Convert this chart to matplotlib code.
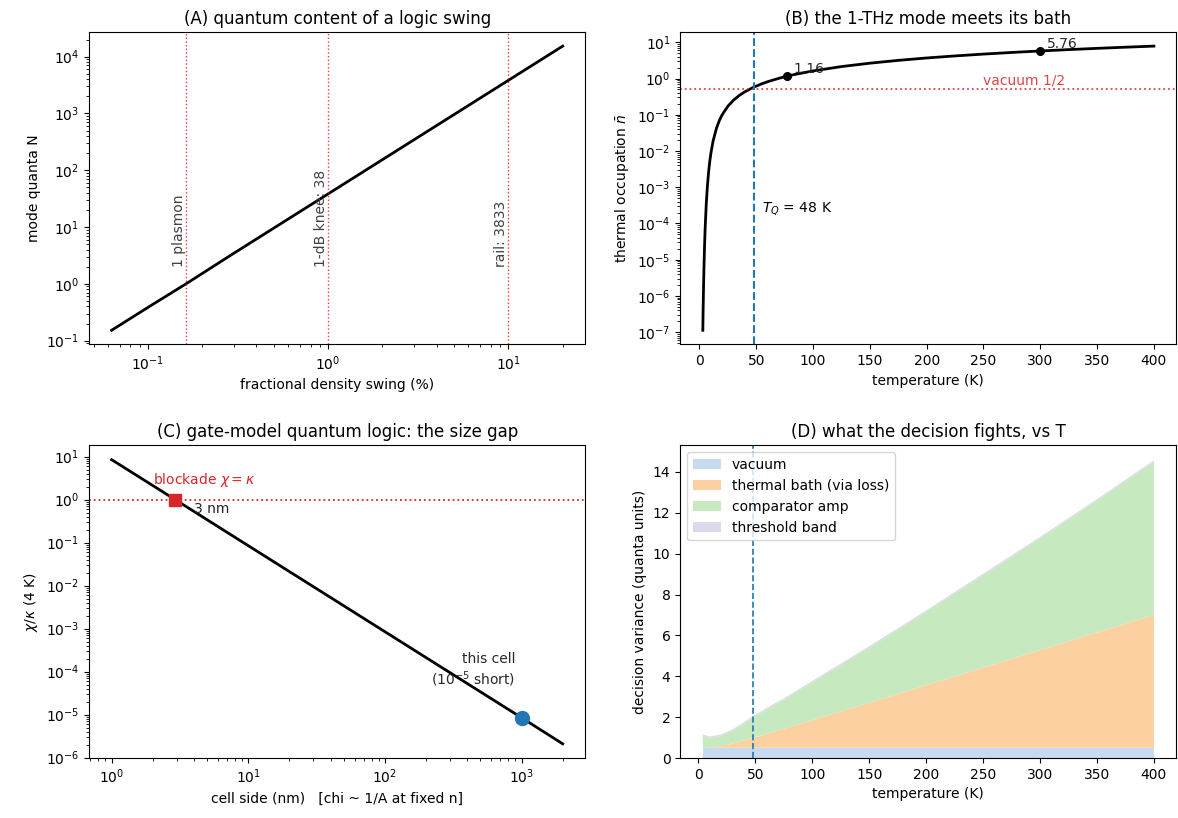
import matplotlib
matplotlib.use("Agg")
import matplotlib.pyplot as plt

# (A) mode quanta vs fractional density swing
swing_pct = [0.063, 0.1, 0.163, 0.3, 1.0, 3.0, 10.0, 20.0]
mode_quanta = [0.152, 0.383, 1.0, 3.45, 38.3, 345, 3833, 15330]
marker_x = [0.163, 1.0, 10.0]
marker_labels = ["1 plasmon", "1-dB knee: 38", "rail: 3833"]

# (B) thermal occupation of the 1-THz mode
temp_b = [3, 3.2, 3.5, 4, 4.5, 5, 6, 7, 8, 9, 10, 12, 15, 17.5, 20, 25, 30, 35,
          40, 48, 55, 60, 70, 77, 85, 100, 125, 150, 175, 200, 225, 250, 275,
          300, 325, 350, 375, 400]
nbar_b = [1.13e-7, 3.06e-7, 1.11e-6, 6.1e-6, 2.33e-5, 6.8e-5, 3.36e-4, 1.05e-3,
          2.48e-3, 4.85e-3, 8.3e-3, 0.0187, 0.0425, 0.0688, 0.0998, 0.172, 0.253,
          0.340, 0.431, 0.582, 0.717, 0.816, 1.015, 1.16, 1.317, 1.62, 2.137,
          2.65, 3.168, 3.69, 4.205, 4.72, 5.243, 5.76, 6.28, 6.80, 7.32, 7.84]
T_Q = 48
dot_T = [77, 300]
dot_n = [1.16, 5.76]

# (C) chi/kappa vs cell side
cell_nm = [1, 2.92, 10, 100, 1000, 2000]
chi_kappa = [8.5, 1.0, 0.085, 8.5e-4, 8.5e-6, 2.1e-6]
blockade_nm = 2.92
this_cell_nm = 1000
this_cell_ratio = 8.5e-6

# (D) stacked decision variance
temp_d = [4, 10, 20, 30, 40, 48, 60, 75, 100, 150, 200, 250, 300, 350, 400]
vacuum = [0.5] * len(temp_d)
thermal = [0.0, 0.007, 0.083, 0.21, 0.36, 0.48, 0.68, 0.93, 1.35, 2.2, 3.06,
           3.92, 4.78, 5.64, 6.5]
amp = [0.58, 0.48, 0.50, 0.62, 0.82, 1.0, 1.2, 1.42, 1.85, 2.7, 3.59, 4.53,
       5.47, 6.46, 7.5]
threshold = [0.07] * len(temp_d)
stack_labels = ["vacuum", "thermal bath (via loss)", "comparator amp", "threshold band"]
stack_colors = ["#c6dbef", "#fdd0a2", "#c7e9c0", "#dadaeb"]

fig, axs = plt.subplots(2, 2, figsize=(11.78, 8.18), dpi=100)
plt.subplots_adjust(left=0.0756, right=0.9987, top=0.961, bottom=0.0733,
                    wspace=0.1915, hspace=0.323)

# --- A ---
ax = axs[0, 0]
ax.loglog(swing_pct, mode_quanta, color="black", lw=2)
for x, lab in zip(marker_x, marker_labels):
    ax.axvline(x, color="red", ls=":", lw=1, alpha=0.8)
    ax.text(x, 2, lab, rotation=90, ha="right", va="bottom", fontsize=10, color="0.25")
ax.set_xlabel("fractional density swing (%)")
ax.set_ylabel("mode quanta N")
ax.set_title("(A) quantum content of a logic swing")

# --- B ---
ax = axs[0, 1]
ax.semilogy(temp_b, nbar_b, color="black", lw=2)
ax.axhline(0.5, color="tab:red", ls=":", lw=1.3, alpha=0.85)
ax.text(250, 0.56, "vacuum 1/2", color="tab:red", alpha=0.85, fontsize=10, va="bottom")
ax.axvline(T_Q, color="tab:blue", ls="--", lw=1.5)
ax.text(55, 2.6e-4, "$T_Q$ = 48 K", va="center")
ax.plot(dot_T, dot_n, "o", color="black", ms=5.5)
for t, n in zip(dot_T, dot_n):
    ax.annotate(f"{n:.2f}", (t, n), xytext=(5, 0), textcoords="offset points",
                fontsize=10, va="bottom", color="0.15")
ax.set_xlabel("temperature (K)")
ax.set_ylabel(r"thermal occupation $\bar{n}$")
ax.set_title("(B) the 1-THz mode meets its bath")

# --- C ---
ax = axs[1, 0]
ax.loglog(cell_nm, chi_kappa, color="black", lw=2)
ax.axhline(1.0, color="tab:red", ls=":", lw=1.3)
ax.plot([blockade_nm], [1.0], "s", color="tab:red", ms=9)
ax.text(2.0, 1.75, r"blockade $\chi=\kappa$", color="tab:red", va="bottom")
ax.text(4.0, 0.6, "3 nm", va="center", fontsize=10, color="0.15")
ax.plot([this_cell_nm], [this_cell_ratio], "o", color="tab:blue", ms=10)
ax.text(900, 4.0e-5, "this cell\n(10$^{-5}$ short)", ha="right", va="bottom",
        fontsize=10, color="0.15")
ax.set_xlabel("cell side (nm)   [chi ~ 1/A at fixed n]")
ax.set_ylabel(r"$\chi/\kappa$ (4 K)")
ax.set_title("(C) gate-model quantum logic: the size gap")

# --- D ---
ax = axs[1, 1]
ax.stackplot(temp_d, vacuum, thermal, amp, threshold, labels=stack_labels,
             colors=stack_colors)
ax.axvline(T_Q, color="tab:blue", ls="--", lw=1.2)
ax.legend(loc="upper left")
ax.set_xlabel("temperature (K)")
ax.set_ylabel("decision variance (quanta units)")
ax.set_title("(D) what the decision fights, vs T")

plt.savefig("out.png", dpi=100)
